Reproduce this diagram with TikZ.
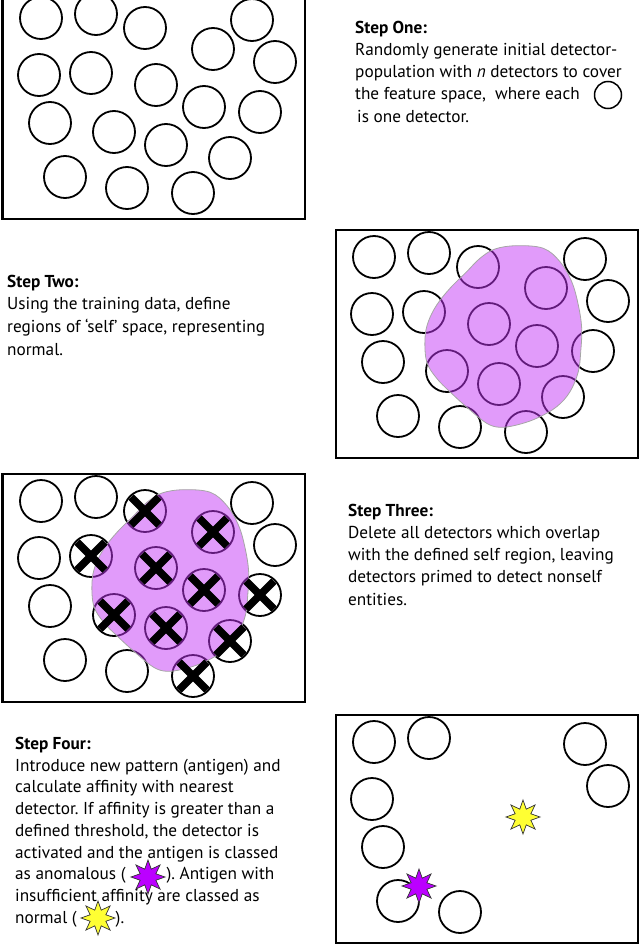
\documentclass[tikz,border=0pt]{standalone}
\usepackage{fontspec}
\setmainfont{PT Sans}
\usetikzlibrary{shapes.geometric}
\definecolor{selfpurple}{RGB}{195,55,245}
\definecolor{antiyellow}{RGB}{255,255,51}
\definecolor{antipurple}{RGB}{187,0,255}
\tikzset{
  detector/.style={circle, draw=black, line width=1.8bp, minimum size=42bp, inner sep=0pt},
  frame/.style={draw=black, line width=2bp},
  selfregion/.style={fill=selfpurple, fill opacity=0.5, draw=gray!70, line width=0.8bp},
  cross/.style={line width=7.5bp, draw=black},
  antigen/.style={star, star points=8, star point ratio=2, minimum size=34bp, inner sep=0pt, draw=black!80, line width=0.7bp},
  steptext/.style={anchor=base west, align=left, inner sep=0pt, font=\fontsize{17.3}{22.25}\selectfont\frenchspacing},
}
\newcommand{\allcircles}{1/41/18, 2/96/14, 3/145/28, 4/252/20, 5/213/49, 6/275/62, 7/39/75, 8/91/73, 9/156/85, 10/204/107, 11/260/112, 12/50/123, 13/114/132, 14/166/145, 15/230/158, 16/65/177, 17/127/188, 18/193/193}
\newcommand{\keptcircles}{1/41/18, 2/96/14, 4/252/20, 6/275/62, 7/39/75, 12/50/123, 16/65/177, 17/127/188}
\newcommand{\selfblob}{plot[smooth cycle, tension=0.6] coordinates {(162,10) (183.7,6.7) (210.3,9.3) (227,22.7) (238.7,42.7) (245.3,66) (248.7,89.3) (247.7,112.7) (245.3,132.7) (237,152.7) (223.7,167.7) (203.7,179.3) (183.7,186) (167,188.3) (153.7,184.3) (137,171) (120.3,156) (103.7,139.3) (93.7,122.7) (92,99.3) (95.3,82.7) (103.7,66) (117,49.3) (133.7,32.7) (147,19.3)}}
\begin{document}
\begin{tikzpicture}[x=1bp, y=-1bp]
\useasboundingbox (0,0) rectangle (640,945);

% Panel 1
\begin{scope}
  \draw[frame] (2.5,-9) rectangle (305,219);
  \foreach \n/\x/\y in \allcircles {\node[detector] (pa\n) at (\x,\y) {};}
\end{scope}

% Panel 2
\begin{scope}[shift={(333,239)}]
  \draw[frame] (2.5,-9) rectangle (305,219);
  \foreach \n/\x/\y in \allcircles {\node[detector] (pb\n) at (\x,\y) {};}
  \path[selfregion] \selfblob;
\end{scope}

% Panel 3
\begin{scope}[shift={(0,483)}]
  \draw[frame] (2.5,-9) rectangle (305,219);
  \foreach \n/\x/\y in \allcircles {\node[detector] (pc\n) at (\x,\y) {};}
  \path[selfregion] \selfblob;
  \foreach \n in {3,5,8,9,10,11,13,14,15,18} {
    \draw[cross] (pc\n.center) ++(-14,-14) -- ++(28,28);
    \draw[cross] (pc\n.center) ++(14,-14) -- ++(-28,28);
  }
\end{scope}

% Panel 4
\begin{scope}[shift={(333,724)}]
  \draw[frame] (2.5,-9) rectangle (305,219);
  \foreach \n/\x/\y in \keptcircles {\node[detector] (pd\n) at (\x,\y) {};}
  \node[antigen, fill=antiyellow] (normalag) at (190,93) {};
  \node[antigen, fill=antipurple] (anomag) at (86,162) {};
\end{scope}

% Texts (anchored at the baseline of their last line)
\node[steptext] (stepone) at (355,122) {\textbf{Step One:}\\Randomly generate initial detector-\\population with \textit{n} detectors to cover\\the feature space,\ \ where each\\\hspace*{2bp}is one detector.};
\node[circle, draw=black, line width=1.5bp, minimum size=27bp, inner sep=0pt] (legendcircle) at (608,95) {};

\node[steptext, font=\fontsize{17.3}{22.7}\selectfont\frenchspacing] (steptwo) at (7,355) {\textbf{Step Two:}\\Using the training data, define\\regions of `self' space, representing\\normal.};

\node[steptext] (stepthree) at (348,605) {\textbf{Step Three:}\\Delete all detectors which overlap\\with the defined self region, leaving\\detectors primed to detect nonself\\entities.};

\node[steptext, font=\fontsize{17.3}{21.75}\selectfont\frenchspacing] (stepfour) at (15,923) {\textbf{Step Four:}\\Introduce new pattern (antigen) and\\calculate affinity with nearest\\detector. If affinity is greater than a\\defined threshold, the detector is\\activated and the antigen is classed\\as anomalous (\hspace{41bp}). Antigen with\\insufficient affinity are classed as\\normal (\hspace{39bp}).};
\node[antigen, fill=antipurple] (legendanom) at (148,877) {};
\node[antigen, fill=antiyellow] (legendnormal) at (98,918) {};
\end{tikzpicture}
\end{document}
